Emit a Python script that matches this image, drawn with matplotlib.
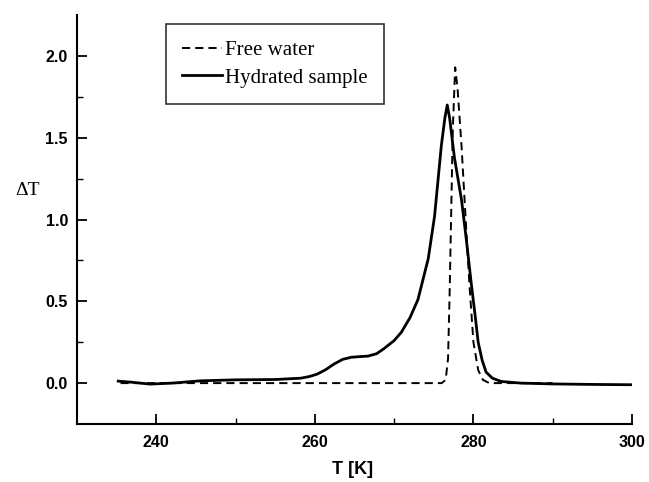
import numpy as np
import matplotlib.pyplot as plt

# Free water (dashed)
T_free = [235.5, 240, 245, 250, 255, 260, 265, 270, 274, 276.0, 276.5, 276.8,
          277.0, 277.2, 277.4, 277.7, 278.0, 278.5, 279.0, 279.5, 280.0, 280.6,
          281.2, 282, 285, 290]
dT_free = [0.0, 0.0, 0.0, 0.0, 0.0, 0.0, 0.0, 0.0, 0.0, 0.0, 0.02, 0.15,
           0.55, 1.05, 1.55, 1.93, 1.80, 1.45, 1.02, 0.6, 0.25, 0.08,
           0.02, 0.0, 0.0, 0.0]

# Hydrated sample (solid)
T_hyd = [235.2, 237, 239.2, 242, 245.6, 250, 255, 258.2, 259.3, 260.3, 261.4, 262.4,
         263.5, 264.6, 265.7, 266.7, 267.8, 268.7, 270.0, 270.9, 272.0, 273.0,
         274.3, 275.1, 275.95, 276.4, 276.7, 277.0, 277.6, 278.5, 279.1, 279.7,
         280.2, 280.6, 281.1, 281.6, 282.4, 283.5, 286, 290, 295, 300]
dT_hyd = [0.012, 0.005, -0.006, 0.0, 0.014, 0.02, 0.022, 0.03, 0.04, 0.055, 0.083, 0.116,
          0.145, 0.158, 0.162, 0.165, 0.18, 0.21, 0.26, 0.31, 0.4, 0.51,
          0.76, 1.02, 1.45, 1.62, 1.70, 1.62, 1.38, 1.12, 0.88, 0.62,
          0.42, 0.25, 0.14, 0.067, 0.03, 0.01, 0.0, -0.005, -0.008, -0.01]

plt.rcParams.update({
    "font.family": "Liberation Sans",
    "font.weight": "bold",
    "font.size": 11.5,
})

fig = plt.figure(figsize=(6.49, 4.82), dpi=100)
ax = fig.add_axes([0.1186, 0.1203, 0.8552, 0.8486])

ax.plot(T_free, dT_free, color="black", lw=1.4, dashes=(4.2, 2.6), label="Free water")
ax.plot(T_hyd, dT_hyd, color="black", lw=2.0, label="Hydrated sample")

ax.set_xlim(230, 300)
ax.set_ylim(-0.25, 2.25)
ax.set_xticks([240, 260, 280, 300])
ax.set_xticks([250, 270, 290], minor=True)
ax.set_yticks([0.0, 0.5, 1.0, 1.5, 2.0])
ax.set_yticks([0.25, 0.75, 1.25, 1.75], minor=True)
ax.yaxis.set_major_formatter(plt.FormatStrFormatter("%.1f"))

for s in ["top", "right"]:
    ax.spines[s].set_visible(False)
for s in ["left", "bottom"]:
    ax.spines[s].set_linewidth(1.5)
ax.tick_params(which="major", direction="in", length=7, width=1.3)
ax.tick_params(axis="y", pad=6.5)
ax.tick_params(axis="x", pad=8)
ax.tick_params(which="minor", direction="in", length=4, width=1.0)

ax.set_xlabel("T [K]", family="Liberation Sans", fontweight="bold", fontsize=13, va="center")
ax.xaxis.set_label_coords(0.497, -0.112)
ax.set_ylabel("\u0394T", family="Liberation Serif", fontweight="normal", fontsize=14,
              rotation=0, va="center", ha="center")
ax.yaxis.set_label_coords(-0.09, 0.57)

leg = ax.legend(loc="upper left", bbox_to_anchor=(0.16, 0.978), borderaxespad=0,
                prop={"family": "Liberation Serif", "weight": "normal", "size": 15},
                frameon=True, fancybox=False, handlelength=1.9, handletextpad=0.15,
                labelspacing=0.38, borderpad=0.8)
leg.get_frame().set_edgecolor("black")
leg.get_frame().set_linewidth(1.2)

plt.savefig("out.png", dpi=100)
